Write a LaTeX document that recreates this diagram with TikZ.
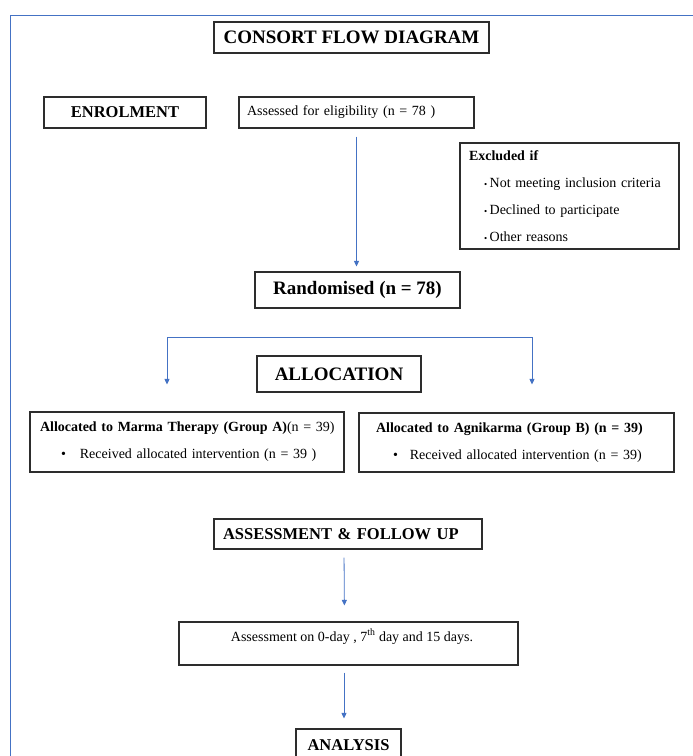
\documentclass[tikz,border=0pt]{standalone}
\usepackage{fontspec}
\setmainfont{Liberation Serif}
\usepackage{tikz}
\usetikzlibrary{arrows.meta,positioning}
\definecolor{flowblue}{RGB}{68,114,196}
\definecolor{boxgray}{RGB}{45,45,45}
\newcommand{\bigbf}{\bfseries\fontsize{19}{23}\selectfont}
\newcommand{\midbf}{\bfseries\fontsize{16.5}{20}\selectfont}
\newcommand{\bodyfont}{\fontsize{14}{27}\selectfont}
\newcommand{\exdot}{{\fontsize{9}{9}\selectfont\textbullet}\hspace{2.5pt}}
\tikzset{
  box/.style={draw=boxgray, line width=1.1pt, inner sep=0pt},
  flow/.style={flowblue, line width=0.8pt, -{Triangle[length=5.5pt,width=5pt]}},
}

\begin{document}
\begin{tikzpicture}[x=1pt,y=-1pt]
        \useasboundingbox (0,0) rectangle (693,756);
        %Frame
        \draw[flowblue, line width=1pt] (10,770) -- (10,15) -- (700,15);
        %Boxes
        \node[box, minimum width=275pt, minimum height=31pt, font=\bigbf] (title) at (351.5,37.5) {CONSORT FLOW DIAGRAM};
        \node[box, minimum width=162pt, minimum height=31pt, font=\midbf] (enrol) at (125,112.5) {ENROLMENT};
        \node[box, minimum width=235pt, minimum height=31pt, text width=219pt, align=left, font=\bodyfont] (assess) at (356.5,112.5) {Assessed for eligibility (n = 78 )};
        \node[box, minimum width=219pt, minimum height=106pt, text width=201pt, align=left, font=\bodyfont] (excl) at (569.5,196)
          {\textbf{Excluded if}\\
           \hspace*{15pt}\exdot Not meeting inclusion criteria\\
           \hspace*{15pt}\exdot Declined to participate\\
           \hspace*{15pt}\exdot Other reasons};
        \node[box, minimum width=205pt, minimum height=36pt, font=\bigbf] (random) at (357.5,290) {Randomised (n = 78)};
        \node[box, minimum width=164pt, minimum height=36pt, font=\bigbf] (alloc) at (339,374) {ALLOCATION};
        \node[box, minimum width=314pt, minimum height=60pt, text width=294pt, align=left, font=\bodyfont] (grpA) at (187,442)
          {\mbox{\textbf{Allocated to Marma Therapy (Group A)}(n = 39)}\\
           \hspace*{21pt}\textbullet\hspace{14pt}Received allocated intervention (n = 39 )};
        \node[box, minimum width=315pt, minimum height=59pt, text width=281pt, align=left, font=\bodyfont] (grpB) at (516.5,442.5)
          {\textbf{Allocated to Agnikarma (Group B) (n = 39)}\\
           \hspace*{17pt}\textbullet\hspace{12pt}Received allocated intervention (n = 39)};
        \node[box, minimum width=268pt, minimum height=30pt, text width=250pt, align=left, font=\midbf] (follow) at (348,534) {ASSESSMENT \& FOLLOW UP};
        \node[box, minimum width=339pt, minimum height=43pt, align=center, font=\fontsize{14}{17}\selectfont] (days) at (348.5,643.5)
          {\hspace*{7pt}Assessment on 0-day , 7\textsuperscript{th} day and 15 days.\\ ~};
        \node[box, minimum width=105pt, minimum height=32pt, font=\midbf] (analysis) at (348.5,745) {ANALYSIS};
        %Branch
        \coordinate (brL) at (167,337);
        \coordinate (brR) at (532,337);
        %Draw arrows
        \draw[flow, shorten <=8pt, shorten >=5pt] (assess.south) -- (assess.south |- random.north);
        \draw[flowblue, line width=0.8pt] (brL) -- (brR);
        \draw[flow, shorten >=27pt] (brL) -- (brL |- grpA.north);
        \draw[flow, shorten >=28pt] (brR) -- (brR |- grpB.north);
        \draw[flow, shorten <=8pt, shorten >=16pt] ([xshift=-4pt]follow.south) -- ([xshift=-4pt]days.north);
        \draw[flow, shorten <=7pt, shorten >=10pt] ([xshift=-4.5pt]days.south) -- ([xshift=-4.5pt]analysis.north);
\end{tikzpicture}
\end{document}
